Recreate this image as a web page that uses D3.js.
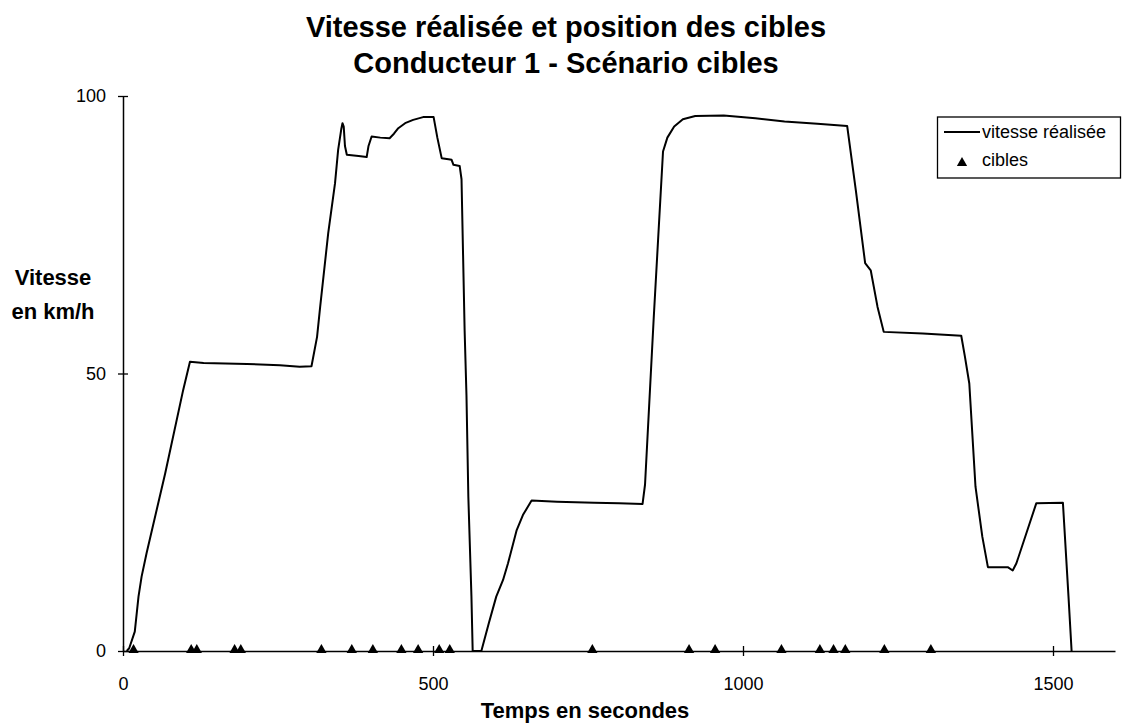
<!DOCTYPE html>
<html>
<head>
<meta charset="utf-8">
<script src="https://cdn.jsdelivr.net/npm/d3@7"></script>
<style>
  html, body { margin: 0; padding: 0; background: #fff; }
  svg { display: block; font-family: "Liberation Sans", Arial, sans-serif; }
</style>
</head>
<body>
<svg id="chart" width="1133" height="723"></svg>
<script>
// Speed trace: time (s) and realised speed (km/h)
const temps = [6, 10, 19, 25, 30, 38, 68, 97, 108, 130, 200, 253, 285, 304, 313, 318, 331, 342, 347, 352, 354, 356, 358, 361, 380, 393, 396, 401, 415, 430, 437, 444, 455, 468, 484, 501, 507, 514, 525, 530, 533, 543, 546, 551, 554, 557, 562, 564, 578, 590, 602, 613, 621, 635, 645, 659, 700, 760, 800, 838, 842, 856, 863, 871, 878, 889, 903, 923, 969, 1020, 1067, 1120, 1168, 1182, 1197, 1206, 1217, 1227, 1290, 1352, 1358, 1365, 1375, 1386, 1395, 1427, 1435, 1441, 1473, 1516, 1525, 1530];
const vitesse = [0, 0.5, 3.5, 9.8, 13.4, 17.6, 32, 47, 52.1, 51.9, 51.7, 51.5, 51.2, 51.3, 56.6, 62, 75.3, 84.3, 90.3, 94, 95.1, 94.5, 91, 89.4, 89.2, 89, 91, 92.7, 92.5, 92.4, 93.2, 94.2, 95.1, 95.7, 96.2, 96.2, 92.5, 88.8, 88.6, 88.5, 87.6, 87.4, 85, 57.8, 46, 27.8, 9.8, 0, 0, 5, 9.8, 12.8, 15.8, 21.8, 24.5, 27.1, 26.9, 26.7, 26.6, 26.5, 30, 60, 74, 90, 92.5, 94.5, 95.8, 96.4, 96.5, 96, 95.4, 95, 94.6, 83, 69.9, 68.6, 62, 57.5, 57.2, 56.8, 53, 48.2, 29.6, 20.6, 15.1, 15.1, 14.5, 15.8, 26.6, 26.7, 9.8, 0];

// Target positions (s), drawn on the time axis
const cibles = [17, 110, 119, 180, 190, 320, 369, 403, 449, 476, 510, 527, 757, 913, 955, 1062, 1124, 1146, 1165, 1228, 1303];

// Axis ticks and texts
const xTicks = [0, 500, 1000, 1500];
const yTicks = [0, 50, 100];
const titre = ["Vitesse réalisée et position des cibles", "Conducteur 1 - Scénario cibles"];
const titreY = ["Vitesse", "en km/h"];
const titreX = "Temps en secondes";
const legende = ["vitesse réalisée", "cibles"];

const svg = d3.select("#chart");

const x = d3.scaleLinear().domain([0, 1600]).range([123, 1115]);
const y = d3.scaleLinear().domain([0, 100]).range([651, 96]);

// Title
svg.append("g").selectAll("text").data(titre).join("text")
  .attr("x", 566).attr("y", (d, i) => 37 + i * 36)
  .attr("text-anchor", "middle")
  .attr("font-size", 29).attr("font-weight", "bold")
  .text(d => d);

// X axis
const gx = svg.append("g").attr("transform", `translate(0,${y(0)})`)
  .call(d3.axisBottom(x).tickValues(xTicks).tickFormat(d3.format("d"))
    .tickSizeOuter(0).tickSizeInner(5).tickPadding(21));
gx.select(".domain").attr("stroke", "#000").attr("stroke-width", 1.5);
gx.selectAll(".tick line").attr("y1", -5).attr("y2", 5).attr("stroke", "#000").attr("stroke-width", 1.3);
gx.selectAll(".tick text").attr("font-size", 18).attr("font-family", "Liberation Sans, Arial, sans-serif").attr("fill", "#000");

// Y axis
const gy = svg.append("g").attr("transform", `translate(${x(0)},0)`)
  .call(d3.axisLeft(y).tickValues(yTicks).tickFormat(d3.format("d"))
    .tickSizeOuter(0).tickSizeInner(5).tickPadding(12));
gy.select(".domain").attr("stroke", "#000").attr("stroke-width", 1.5);
gy.selectAll(".tick line").attr("x1", -5).attr("x2", 5).attr("stroke", "#000").attr("stroke-width", 1.3);
gy.selectAll(".tick text").attr("font-size", 18).attr("font-family", "Liberation Sans, Arial, sans-serif").attr("fill", "#000");

// Axis titles
svg.append("g").selectAll("text").data(titreY).join("text")
  .attr("x", 53).attr("y", (d, i) => 285 + i * 34)
  .attr("text-anchor", "middle")
  .attr("font-size", 22).attr("font-weight", "bold")
  .text(d => d);

svg.append("text")
  .attr("x", 585).attr("y", 718)
  .attr("text-anchor", "middle")
  .attr("font-size", 22).attr("font-weight", "bold")
  .text(titreX);

// Speed line
const line = d3.line().x(d => x(d[0])).y(d => y(d[1]));
svg.append("path")
  .datum(d3.zip(temps, vitesse))
  .attr("d", line)
  .attr("fill", "none").attr("stroke", "#000").attr("stroke-width", 2)
  .attr("stroke-linejoin", "round");

// Targets
const tri = d3.symbol(d3.symbolTriangle).size(46);
svg.append("g").selectAll("path").data(cibles).join("path")
  .attr("transform", d => `translate(${x(d)},${y(0) - 1})`)
  .attr("d", tri)
  .attr("fill", "#000");

// Legend
const lg = svg.append("g");
lg.append("rect").attr("x", 937.5).attr("y", 117).attr("width", 183).attr("height", 61)
  .attr("fill", "#fff").attr("stroke", "#000").attr("stroke-width", 1.3);
lg.append("line").attr("x1", 944).attr("x2", 980).attr("y1", 132).attr("y2", 132)
  .attr("stroke", "#000").attr("stroke-width", 2);
lg.append("path").attr("transform", "translate(962,163)").attr("d", tri).attr("fill", "#000");
lg.selectAll("text").data(legende).join("text")
  .attr("x", 982).attr("y", (d, i) => 138 + i * 28)
  .attr("font-size", 18)
  .text(d => d);
</script>
</body>
</html>
